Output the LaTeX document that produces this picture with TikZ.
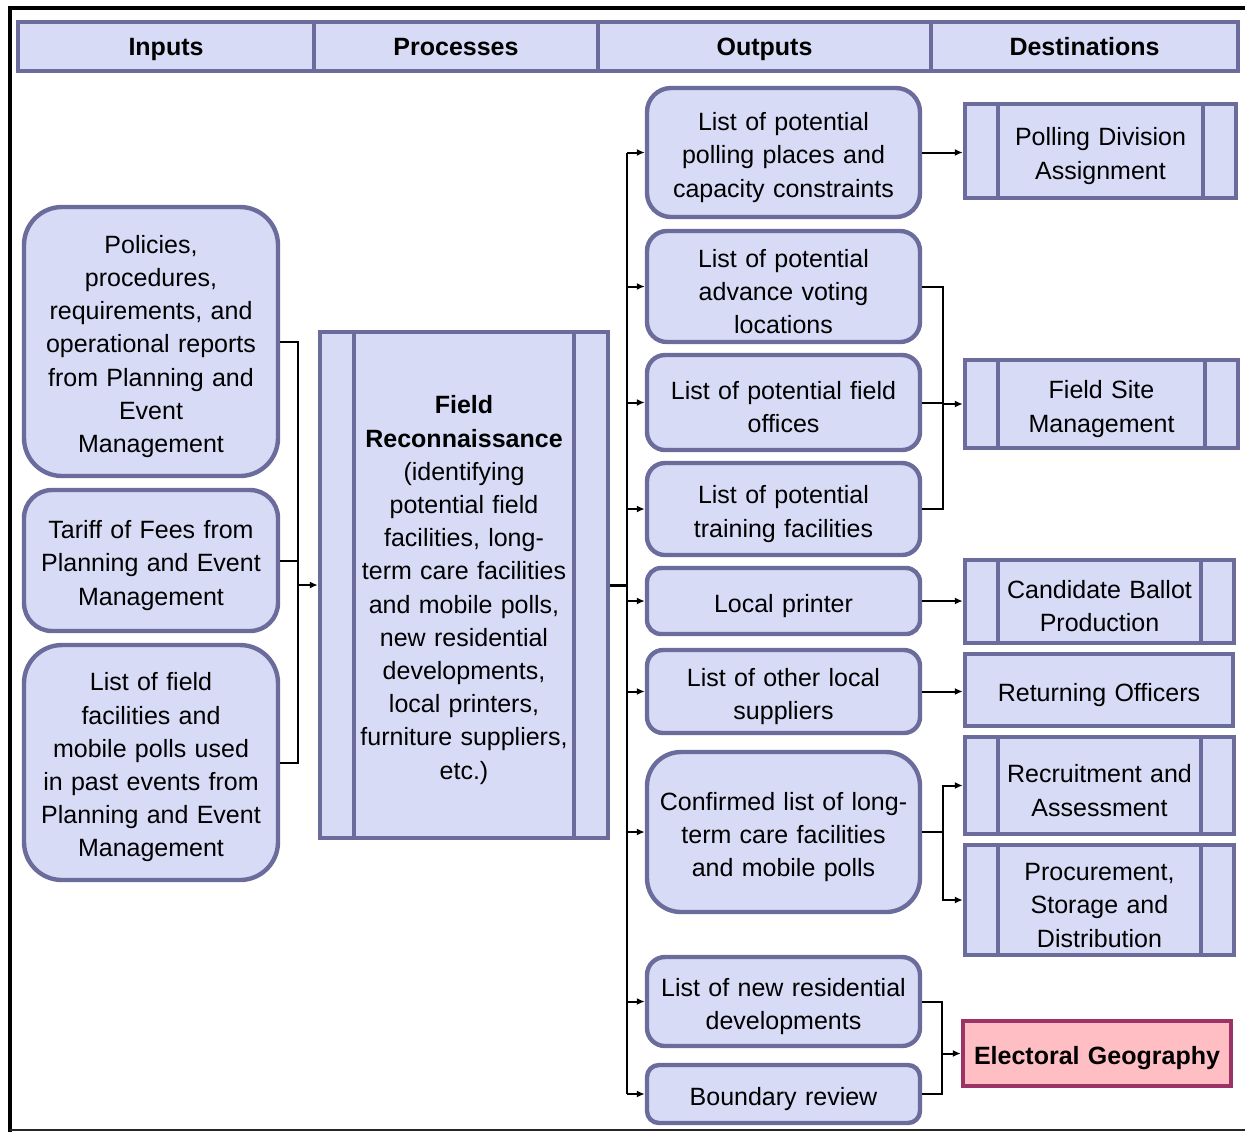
\documentclass[tikz,border=0pt]{standalone}
\usepackage{fontspec}
\setmainfont{Liberation Sans}
\usetikzlibrary{arrows.meta,positioning}
\definecolor{slate}{HTML}{6B6B9C}
\definecolor{lavender}{HTML}{D7DBF5}
\definecolor{rosefill}{HTML}{FFBEC4}
\definecolor{roseedge}{HTML}{9B3366}

\begin{document}
\begin{tikzpicture}[x=0.5pt,y=-0.5pt,
  font=\fontsize{12.5}{16.6}\selectfont,
  box/.style={draw=slate,fill=lavender,line width=2.2pt,align=center,inner sep=0pt},
  body/.style={box,text width=125pt,execute at begin node={\rule{0pt}{14pt}}},
  head/.style={box,font=\fontsize{12.5}{16.6}\selectfont\bfseries,minimum height=24.5pt,
    text height=9.1pt,text depth=0pt},
  soft/.style={body,rounded corners=#1},
  soft/.default=9pt,
  barred/.style={body,path picture={
    \draw[slate,line width=2.2pt]
      ([xshift=#1]path picture bounding box.north west) -- ([xshift=#1]path picture bounding box.south west)
      ([xshift=-#1]path picture bounding box.north east) -- ([xshift=-#1]path picture bounding box.south east);}},
  target/.style={body,draw=roseedge,fill=rosefill,font=\fontsize{12.5}{16.6}\selectfont\bfseries},
  wire/.style={line width=1pt,draw=black},
  arrow/.style={wire,-{Latex[length=4pt,width=3.5pt]}}
]
\useasboundingbox (0,0) rectangle (1245,1132);
% outer frame
\draw[line width=2.3pt] (10,1132) -- (10,8) -- (1245,8);
\draw[line width=1.2pt,black!85] (10,1130) -- (1245,1130);

% column headings
\node[head,minimum width=148pt] (hinputs) at (166,46.5) {Inputs};
\node[head,minimum width=142pt] (hprocesses) at (456,46.5) {Processes};
\node[head,minimum width=166.5pt] (houtputs) at (764.5,46.5) {Outputs};
\node[head,minimum width=153.5pt] (hdest) at (1084.5,46.5) {Destinations};

% inputs
\node[soft=19pt,minimum width=127pt,minimum height=134.5pt] (policies) at (151,341.5)
  {Policies,\\procedures,\\requirements, and\\operational reports\\from Planning and\\Event\\Management};
\node[soft=14pt,minimum width=127pt,minimum height=70.5pt] (tariff) at (151,560.5)
  {Tariff of Fees from\\Planning and Event\\Management};
\node[soft=19pt,minimum width=127pt,minimum height=117.5pt] (pastsites) at (151,762.5)
  {List of field\\facilities and\\mobile polls used\\in past events from\\Planning and Event\\Management};

% process
\node[barred=17pt,minimum width=144pt,minimum height=253pt] (recon) at (464,585)
  {\textbf{Field}\\\textbf{Reconnaissance}\\(identifying\\potential field\\facilities, long-\\term care facilities\\and mobile polls,\\new residential\\developments,\\local printers,\\furniture suppliers,\\etc.)};

% outputs
\node[soft=12pt,minimum width=136.5pt,minimum height=64.5pt] (pollplaces) at (783.5,152.5)
  {List of potential\\polling places and\\capacity constraints};
\node[soft=10pt,minimum width=136.5pt,minimum height=55.5pt] (advance) at (783.5,286.5)
  {List of potential\\advance voting\\locations};
\node[soft=9pt,minimum width=136.5pt,minimum height=47.5pt] (offices) at (783.5,402.5)
  {List of potential field\\offices};
\node[soft=9pt,minimum width=136.5pt,minimum height=46pt] (training) at (783.5,509)
  {List of potential\\training facilities};
\node[soft=7pt,minimum width=136.5pt,minimum height=33pt] (printer) at (783.5,601)
  {Local printer};
\node[soft=8pt,minimum width=136.5pt,minimum height=41.5pt] (suppliers) at (783.5,691.5)
  {List of other local\\suppliers};
\node[soft=17pt,minimum width=136.5pt,minimum height=80pt] (ltcare) at (783.5,832)
  {Confirmed list of long-\\term care facilities\\and mobile polls};
\node[soft=9pt,minimum width=136.5pt,minimum height=44.5pt] (newres) at (783.5,1001.5)
  {List of new residential\\developments};
\node[soft=6pt,minimum width=136.5pt,minimum height=29pt] (boundary) at (783.5,1094)
  {Boundary review};

% destinations
\node[barred=16.5pt,minimum width=135.5pt,minimum height=47pt] (division) at (1100.5,151)
  {Polling Division\\Assignment};
\node[barred=16.5pt,minimum width=136.5pt,minimum height=44pt] (fieldsite) at (1101.5,404)
  {Field Site\\Management};
\node[barred=16.5pt,minimum width=134.5pt,minimum height=41.5pt] (ballot) at (1099.5,601.5)
  {Candidate Ballot\\Production};
\node[body,minimum width=134pt,minimum height=36pt] (returning) at (1099,690)
  {Returning Officers};
\node[barred=16.5pt,minimum width=134.5pt,minimum height=48.5pt] (recruit) at (1099.5,785.5)
  {Recruitment and\\Assessment};
\node[barred=16.5pt,minimum width=134.5pt,minimum height=55pt] (procure) at (1099.5,900)
  {Procurement,\\Storage and\\Distribution};
\node[target,minimum width=134pt,minimum height=32.5pt] (geography) at (1097,1053.5)
  {Electoral Geography};

% inputs into the process
\coordinate (inbus) at (298,585);
\draw[wire] (policies.east) -| (inbus) (tariff.east) -| (inbus) (pastsites.east) -| (inbus);
\draw[arrow] (inbus) -- (recon);

% process out to every output
\coordinate (outbus) at (627,585);
\draw[wire,line width=1.5pt] (recon) -- (outbus);
\draw[wire] (outbus |- pollplaces.west) -- (outbus |- boundary.west);
\foreach \n in {pollplaces,advance,offices,training,printer,suppliers,ltcare,newres,boundary}
  \draw[arrow] (outbus |- \n.west) -- (\n.west);

% outputs to destinations
\draw[arrow] (pollplaces.east) -- (pollplaces.east -| division.west);
\coordinate (sitebus) at (943,404);
\draw[wire] (advance.east) -| (sitebus) |- (training.east);
\draw[wire] (offices.east) -- (offices.east -| sitebus);
\draw[arrow] (sitebus) -- (sitebus -| fieldsite.west);
\draw[arrow] (printer.east) -- (printer.east -| ballot.west);
\draw[arrow] (suppliers.east) -- (suppliers.east -| returning.west);
\coordinate (staffbus) at (943,832);
\draw[wire] (ltcare.east) -- (staffbus);
\draw[arrow] (staffbus) |- (recruit.west);
\draw[arrow] (staffbus) |- (procure.west);
\coordinate (geobus) at (942,1053.5);
\draw[wire] (newres.east) -| (geobus) |- (boundary.east);
\draw[arrow] (geobus) -- (geography.west);
\end{tikzpicture}
\end{document}
